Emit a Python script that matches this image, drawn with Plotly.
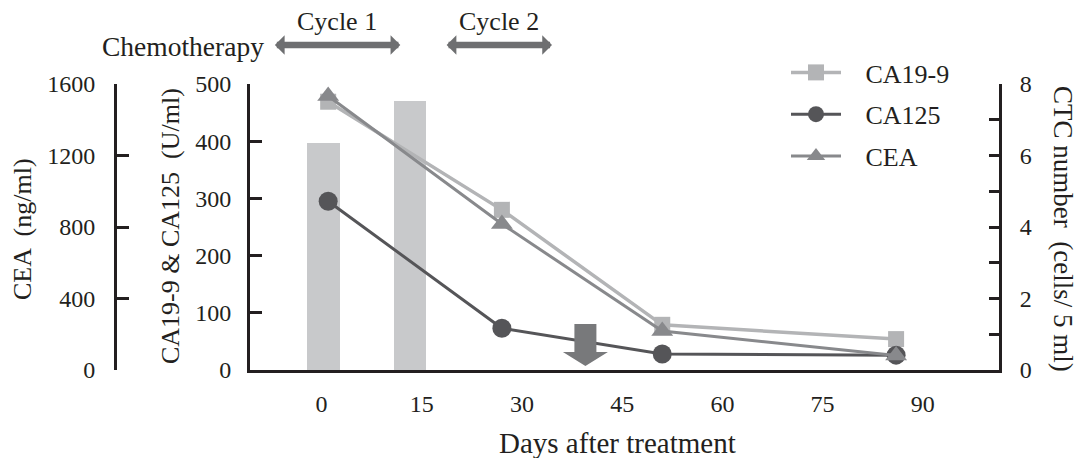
import plotly.graph_objects as go

# ---------------- data ----------------
marker_days = [1, 27, 51, 86]
ca199 = [469, 280, 79, 54]
ca125 = [295, 73, 28, 26]
cea = [1533, 817, 218, 81]

ctc_days = [0.3, 13.2]
ctc_values = [6.35, 7.52]
ctc_undetected_day = [39.5]

cycle_labels = ["Cycle 1", "Cycle 2"]
cycle_start = [-7.2, 18.5]
cycle_end = [11.8, 34.5]

x_ticks = [0, 15, 30, 45, 60, 75, 90]
ca_ticks = [0, 100, 200, 300, 400, 500]
cea_ticks = [0, 400, 800, 1200, 1600]
ctc_ticks = [0, 2, 4, 6, 8]

# ---------------- style ----------------
W, H = 1078, 458
PL, PR, PT, PB = 250, 999, 84, 370   # plot area in pixels
INK = "#231f20"
C_CA199 = "#b3b4b6"
C_CA125 = "#555558"
C_CEA = "#88898c"
C_BAR = "#c8c9cb"
C_ARROW = "#6e6f71"
C_DOWN = "#78797b"
SERIF = "Liberation Serif"
NUM = dict(family=SERIF, size=24, color=INK)
TXT = dict(family=SERIF, size=26, color=INK)
PAD = "\u00a0\u00a0\u00a0"
# block down-arrow glyph, in pixels relative to its anchor point (up = +)
DOWN_ARROW_PATH = "M-11,46 L11,46 L11,18 L22.5,18 L0,4 L-22.5,18 L-11,18 Z"


def px(x):
    return x / W


def py(y):
    return 1 - y / H


def font(size):
    return dict(family=SERIF, size=size, color=INK)


fig = go.Figure()

fig.add_trace(go.Bar(x=ctc_days, y=ctc_values, width=4.8, marker_color=C_BAR,
                     marker_line_width=0, yaxis="y", showlegend=False))

fig.add_trace(go.Scatter(x=marker_days, y=ca199, name=PAD + "CA19-9", yaxis="y2",
                         mode="lines+markers", legendgroup="a",
                         line=dict(color=C_CA199, width=3.5),
                         marker=dict(symbol="square", size=16, color=C_CA199)))
fig.add_trace(go.Scatter(x=marker_days, y=ca125, name=PAD + "CA125", yaxis="y2",
                         mode="lines+markers", legendgroup="b",
                         line=dict(color=C_CA125, width=3),
                         marker=dict(symbol="circle", size=19, color=C_CA125)))
fig.add_trace(go.Scatter(x=marker_days, y=cea, name=PAD + "CEA", yaxis="y3",
                         mode="lines+markers", legendgroup="c",
                         line=dict(color=C_CEA, width=3),
                         marker=dict(symbol="triangle-up", size=19, color=C_CEA)))

axis_common = dict(showgrid=False, zeroline=False, showline=True,
                   linecolor=INK, linewidth=3, tickcolor=INK, tickwidth=2.5,
                   tickfont=NUM, fixedrange=True)

fig.update_layout(
    width=W, height=H,
    margin=dict(l=0, r=0, t=0, b=0, autoexpand=False),
    paper_bgcolor="white", plot_bgcolor="white",
    bargap=0,
    xaxis=dict(domain=[px(PL), px(PR)], range=[-10.7, 101.4],
               tickvals=x_ticks, ticks="", ticklabelstandoff=10,
               **axis_common),
    yaxis=dict(domain=[py(PB), py(PT)], range=[0, 8], side="right",
               anchor="x", tickvals=ctc_ticks, ticks="inside", ticklen=10,
               minor=dict(dtick=1, ticks="inside", ticklen=10,
                          tickwidth=2.5, tickcolor=INK, showgrid=False),
               ticklabelstandoff=13, **axis_common),
    yaxis2=dict(range=[0, 500], side="left", anchor="x", overlaying="y",
                tickvals=ca_ticks, ticks="inside", ticklen=12,
                ticklabelstandoff=11, **axis_common),
    yaxis3=dict(range=[0, 1600], side="left", anchor="free",
                position=px(115), overlaying="y",
                tickvals=cea_ticks, ticks="inside", ticklen=12,
                ticklabelstandoff=14, **axis_common),
    legend=dict(x=px(786), y=py(49), xanchor="left", yanchor="top",
                font=TXT, bgcolor="rgba(0,0,0,0)", borderwidth=0,
                itemwidth=50, tracegroupgap=5, traceorder="grouped"),
)

ann = []
# axis titles
ann.append(dict(text="CEA  (ng/ml)", x=px(22), y=py(229), xref="paper", yref="paper",
                textangle=-90, showarrow=False, font=TXT,
                xanchor="center", yanchor="middle"))
ann.append(dict(text="CA19-9 & CA125  (U/ml)", x=px(171), y=py(226), xref="paper",
                yref="paper", textangle=-90, showarrow=False, font=TXT,
                xanchor="center", yanchor="middle"))
ann.append(dict(text="CTC number  (cells/ 5 ml)", x=px(1063), y=py(229), xref="paper",
                yref="paper", textangle=90, showarrow=False, font=font(27),
                xanchor="center", yanchor="middle"))
ann.append(dict(text="Days after treatment", x=px(617.5), y=py(443), xref="paper",
                yref="paper", showarrow=False, font=font(29),
                xanchor="center", yanchor="middle"))
ann.append(dict(text="Chemotherapy", x=px(183), y=py(46), xref="paper", yref="paper",
                showarrow=False, font=font(27.5), xanchor="center", yanchor="middle"))

for lab, s, e in zip(cycle_labels, cycle_start, cycle_end):
    ann.append(dict(text=lab, x=(s + e) / 2, y=py(21), xref="x", yref="paper",
                    showarrow=False, font=TXT, xanchor="center", yanchor="middle"))
    ann.append(dict(text="", x=e, y=py(45), xref="x", yref="paper",
                    ax=s, ay=0, axref="x", ayref="pixel",
                    showarrow=True, arrowhead=1, arrowside="end+start",
                    startarrowhead=1, arrowwidth=6.5, arrowsize=0.5,
                    startarrowsize=0.5, arrowcolor=C_ARROW,
                    standoff=0, startstandoff=0))

fig.update_layout(annotations=ann)

# CTC not detected: block arrow pointing down to zero
for d in ctc_undetected_day:
    fig.add_shape(type="path", xref="x", yref="y",
                  xsizemode="pixel", ysizemode="pixel",
                  xanchor=d, yanchor=0, path=DOWN_ARROW_PATH,
                  fillcolor=C_DOWN, line=dict(width=0), layer="above")

fig.write_html("out.html", post_script="document.body.style.margin='0';",
               config={"displayModeBar": False})
